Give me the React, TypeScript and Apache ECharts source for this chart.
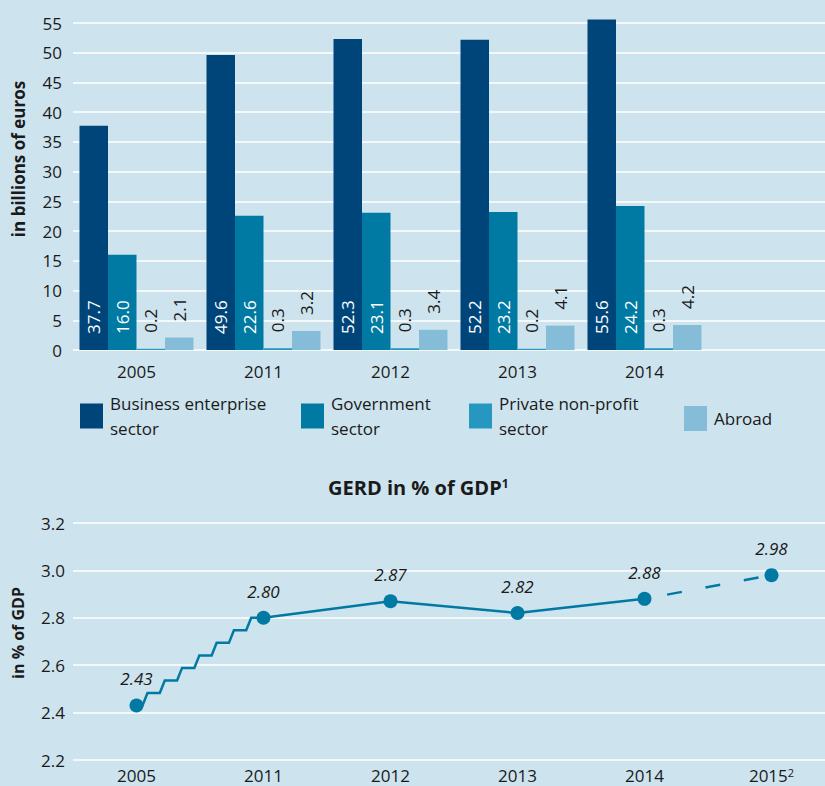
import React, { useEffect, useRef } from 'react';
import * as echarts from 'echarts';

// ---- Data ----
const barYears = ['2005', '2011', '2012', '2013', '2014', ''];
const businessSector = [37.7, 49.6, 52.3, 52.2, 55.6];
const governmentSector = [16.0, 22.6, 23.1, 23.2, 24.2];
const privateNonProfit = [0.2, 0.3, 0.3, 0.2, 0.3];
const abroadSector = [2.1, 3.2, 3.4, 4.1, 4.2];

const gerdYears = ['2005', '2011', '2012', '2013', '2014', '2015'];
const gerdValues = [2.43, 2.8, 2.87, 2.82, 2.88, 2.98];

const seriesNames = [
  'Business enterprise sector',
  'Government sector',
  'Private non-profit sector',
  'Abroad',
];
const legendLabels: Record<string, string> = {
  'Business enterprise sector': 'Business enterprise\nsector',
  'Government sector': 'Government\nsector',
  'Private non-profit sector': 'Private non-profit\nsector',
  Abroad: 'Abroad',
};

const FONT = '"Open Sans", "Noto Sans", sans-serif';
const TXT = '#1a1a1a';
const COLORS = ['#00457a', '#007aa3', '#2698c0', '#85bcd8'];
const LINE = '#007aa3';

export default function App() {
  const ref = useRef<HTMLDivElement>(null);

  useEffect(() => {
    if (!ref.current) return;
    const chart = echarts.init(ref.current, null, { renderer: 'svg' });

    const legendBase = (name: string, left: number, top: number) => ({
      data: [name],
      left,
      top,
      padding: 0,
      itemWidth: 23,
      itemHeight: 25,
      icon: 'rect',
      selectedMode: false,
      formatter: (n: string) => legendLabels[n],
      textStyle: {
        fontFamily: FONT,
        fontSize: 17,
        color: TXT,
        lineHeight: 25,
        padding: [0, 0, 0, 2],
      },
    });

    const insideLabel = {
      show: true,
      position: 'insideBottom',
      rotate: 90,
      align: 'left',
      verticalAlign: 'middle',
      distance: 16,
      color: '#ffffff',
      fontFamily: FONT,
      fontSize: 17,
      formatter: (p: any) => Number(p.value).toFixed(1),
    };
    const topLabel = {
      ...insideLabel,
      position: 'top',
      color: TXT,
    };

    const barData = [businessSector, governmentSector, privateNonProfit, abroadSector];

    const barSeries = seriesNames.map((name, i) => ({
      type: 'bar',
      name,
      xAxisIndex: 0,
      yAxisIndex: 0,
      data: barData[i],
      barWidth: 28.5,
      barGap: '0%',
      clip: false,
      itemStyle: { color: COLORS[i] },
      label: i < 2 ? insideLabel : topLabel,
    }));

    const solidData = gerdValues.map((v, i) => (i >= 1 && i <= 4 ? v : '-'));
    const dashedData = gerdValues.map((v, i) => (i >= 4 ? v : '-'));

    const option: any = {
      animation: false,
      backgroundColor: '#cde3ee',
      textStyle: { fontFamily: FONT },
      title: {
        text: 'GERD in % of GDP{sup|1}',
        left: 328,
        top: 477,
        padding: 0,
        textStyle: {
          fontFamily: FONT,
          fontSize: 20,
          fontWeight: 'bold',
          color: TXT,
          rich: {
            sup: {
              fontFamily: FONT,
              fontSize: 12,
              fontWeight: 'bold',
              color: TXT,
              verticalAlign: 'top',
            },
          },
        },
      },
      legend: [
        legendBase(seriesNames[0], 80, 391),
        legendBase(seriesNames[1], 301, 391),
        legendBase(seriesNames[2], 469, 391),
        legendBase(seriesNames[3], 684, 406),
      ],
      grid: [
        { left: 73, width: 762, top: 23, height: 327 },
        { left: 73, width: 762, top: 523, height: 237 },
      ],
      xAxis: [
        {
          type: 'category',
          gridIndex: 0,
          data: barYears,
          axisLine: { show: false },
          axisTick: { show: false },
          axisLabel: { interval: 0, fontFamily: FONT, fontSize: 17, color: TXT, margin: 13 },
        },
        {
          type: 'category',
          gridIndex: 1,
          data: gerdYears,
          axisLine: { show: false },
          axisTick: { show: false },
          axisLabel: {
            interval: 0,
            fontFamily: FONT,
            fontSize: 17,
            color: TXT,
            margin: 7,
            formatter: (v: string) => (v === '2015' ? '2015{sup|2}' : v),
            rich: {
              sup: { fontFamily: FONT, fontSize: 11, color: TXT, verticalAlign: 'top' },
            },
          },
        },
      ],
      yAxis: [
        {
          type: 'value',
          gridIndex: 0,
          min: 0,
          max: 55,
          interval: 5,
          axisLine: { show: false },
          axisTick: { show: false },
          splitLine: { lineStyle: { color: '#ffffff', width: 1.5 } },
          axisLabel: { fontFamily: FONT, fontSize: 17, color: TXT, margin: 11 },
        },
        {
          type: 'value',
          gridIndex: 1,
          min: 2.2,
          max: 3.2,
          interval: 0.2,
          axisLine: { show: false },
          axisTick: { show: false },
          splitLine: { lineStyle: { color: '#ffffff', width: 1.5 } },
          axisLabel: {
            fontFamily: FONT,
            fontSize: 17,
            color: TXT,
            margin: 8,
            formatter: (v: number) => v.toFixed(1),
          },
        },
      ],
      graphic: [
        {
          type: 'text',
          x: 18,
          y: 159,
          rotation: Math.PI / 2,
          style: {
            text: 'in billions of euros',
            fontFamily: FONT,
            fontSize: 17,
            fontWeight: 'bold',
            fill: TXT,
            align: 'center',
            verticalAlign: 'middle',
            textAlign: 'center',
            textVerticalAlign: 'middle',
          },
        },
        {
          type: 'text',
          x: 18,
          y: 633,
          rotation: Math.PI / 2,
          style: {
            text: 'in % of GDP',
            fontFamily: FONT,
            fontSize: 16,
            fontWeight: 'bold',
            fill: TXT,
            align: 'center',
            verticalAlign: 'middle',
            textAlign: 'center',
            textVerticalAlign: 'middle',
          },
        },
      ],
      series: [
        ...barSeries,
        {
          type: 'custom',
          name: 'gap',
          xAxisIndex: 1,
          yAxisIndex: 1,
          silent: true,
          z: 2,
          data: [[0, gerdValues[0], 1, gerdValues[1]]],
          encode: { x: [0, 2], y: [1, 3] },
          renderItem: (params: any, api: any) => {
            const p0 = api.coord([api.value(0), api.value(1)]);
            const p1 = api.coord([api.value(2), api.value(3)]);
            const n = 7;
            const s = 6;
            const d = 5;
            const run = (p1[0] - p0[0] - s) / n;
            const rise = (p1[1] - p0[1]) / n;
            const pts: number[][] = [[p0[0], p0[1]]];
            for (let i = 0; i < n; i++) {
              const xs = p0[0] + s + i * run;
              pts.push([xs, p0[1] + i * rise]);
              pts.push([xs + d, p0[1] + (i + 1) * rise]);
              pts.push([p0[0] + s + (i + 1) * run, p0[1] + (i + 1) * rise]);
            }
            pts.push([p1[0], p1[1]]);
            return {
              type: 'polyline',
              shape: { points: pts },
              style: { stroke: LINE, lineWidth: 2.5, fill: 'none' },
            };
          },
        },
        {
          type: 'line',
          name: 'GERD',
          xAxisIndex: 1,
          yAxisIndex: 1,
          data: solidData,
          showSymbol: false,
          z: 2,
          lineStyle: { color: LINE, width: 2.5 },
        },
        {
          type: 'line',
          name: 'GERD estimate',
          xAxisIndex: 1,
          yAxisIndex: 1,
          data: dashedData,
          showSymbol: false,
          z: 2,
          lineStyle: { color: LINE, width: 2.5, type: [15, 24], dashOffset: 16 },
        },
        {
          type: 'scatter',
          name: 'GERD points',
          xAxisIndex: 1,
          yAxisIndex: 1,
          data: gerdValues,
          symbol: 'circle',
          symbolSize: 14,
          z: 5,
          itemStyle: { color: LINE, opacity: 1 },
          label: {
            show: true,
            position: 'top',
            distance: 11,
            fontFamily: FONT,
            fontSize: 17,
            fontStyle: 'italic',
            color: TXT,
            formatter: (p: any) => Number(p.value).toFixed(2),
          },
        },
      ],
    };

    chart.setOption(option);
    return () => chart.dispose();
  }, []);

  return (
    <div
      style={{
        position: 'fixed',
        left: 0,
        top: 0,
        width: 825,
        height: 786,
        overflow: 'hidden',
        background: '#cde3ee',
      }}
    >
      <div ref={ref} style={{ width: 835, height: 786 }} />
    </div>
  );
}
